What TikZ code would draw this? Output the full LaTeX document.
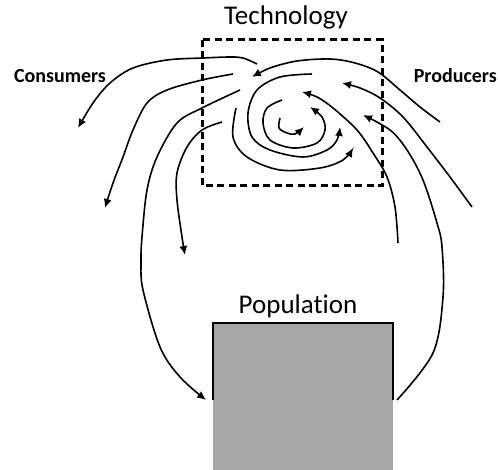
\documentclass[tikz,border=0pt]{standalone}
\usepackage{fontspec}
\setmainfont[Ligatures={NoCommon}]{Carlito}
\usetikzlibrary{arrows.meta}
\definecolor{popgray}{RGB}{166,166,166}
\tikzset{
  flow/.style={line width=1.6pt, smooth, tension=0.55},
  flowarr/.style={flow, -{Latex[length=9pt,width=8pt]}},
  lbl/.style={font=\fontsize{20}{24}\selectfont\bfseries, anchor=base},
  title/.style={font=\fontsize{27}{30}\selectfont, anchor=base}
}
\begin{document}
\begin{tikzpicture}[x=1pt,y=-1pt]
\useasboundingbox (0,0) rectangle (498,470);
% population box
\fill[popgray] (213,323) rectangle (393,470);
\draw[line width=1.6pt] (213,400) -- (213,323) -- (393,323) -- (393,400);
% technology box
\draw[line width=3pt, dash pattern=on 7pt off 4.5pt] (202,40) rectangle (382,186);
% labels
\node[title] (tech) at (286,25) {Technology};
\node[title] (pop) at (298,313) {Population};
\node[lbl] (cons) at (60,83) {Consumers};
\node[lbl, anchor=base east, inner xsep=1pt] (prod) at (498,83) {Producers};
% consumers side
\draw[flowarr] plot coordinates {(257,64) (243,58) (230,57) (203,58) (167,60) (133,68) (110,83) (93,103) (78,128)};
\draw[flowarr] plot coordinates {(233,74) (202,80) (167,90) (147,103) (133,130) (123,157) (113,183) (105,208)};
\draw[flowarr] plot coordinates {(240,90) (202,108) (177,123) (157,157) (147,190) (142,237) (141,262) (143,290) (160,347) (180,377) (206,400)};
\draw[flowarr] plot coordinates {(222,122) (202,130) (187,147) (177,173) (177,200) (182,237) (185,255)};
% spiral
\draw[flowarr] plot coordinates {(236,108) (233,137) (247,157) (280,170) (320,168) (343,160) (353,148)};
\draw[flowarr] plot coordinates {(312,74) (280,77) (257,90) (248,113) (252,137) (270,150) (303,157) (327,150) (337,140) (340,127)};
\draw[flowarr] plot coordinates {(282,100) (267,108) (263,123) (270,140) (293,148) (317,143) (325,130) (322,117) (310,107)};
\draw[flowarr] plot coordinates {(280,118) (279,128) (287,133) (295,134) (304,127)};
% producers side
\draw[flowarr] plot coordinates {(440,122) (420,107) (400,90) (378,72) (355,63) (330,59) (297,61) (270,68) (252,77)};
\draw[flowarr] plot coordinates {(472,207) (450,177) (427,147) (403,117) (380,98) (360,88) (342,83)};
\draw[flowarr] plot coordinates {(397,400) (433,353) (443,297) (442,247) (437,223) (423,180) (407,150) (390,130) (363,115)};
\draw[flowarr] plot coordinates {(398,243) (395,207) (387,177) (373,153) (357,130) (333,108) (317,97) (302,92)};
\end{tikzpicture}
\end{document}
